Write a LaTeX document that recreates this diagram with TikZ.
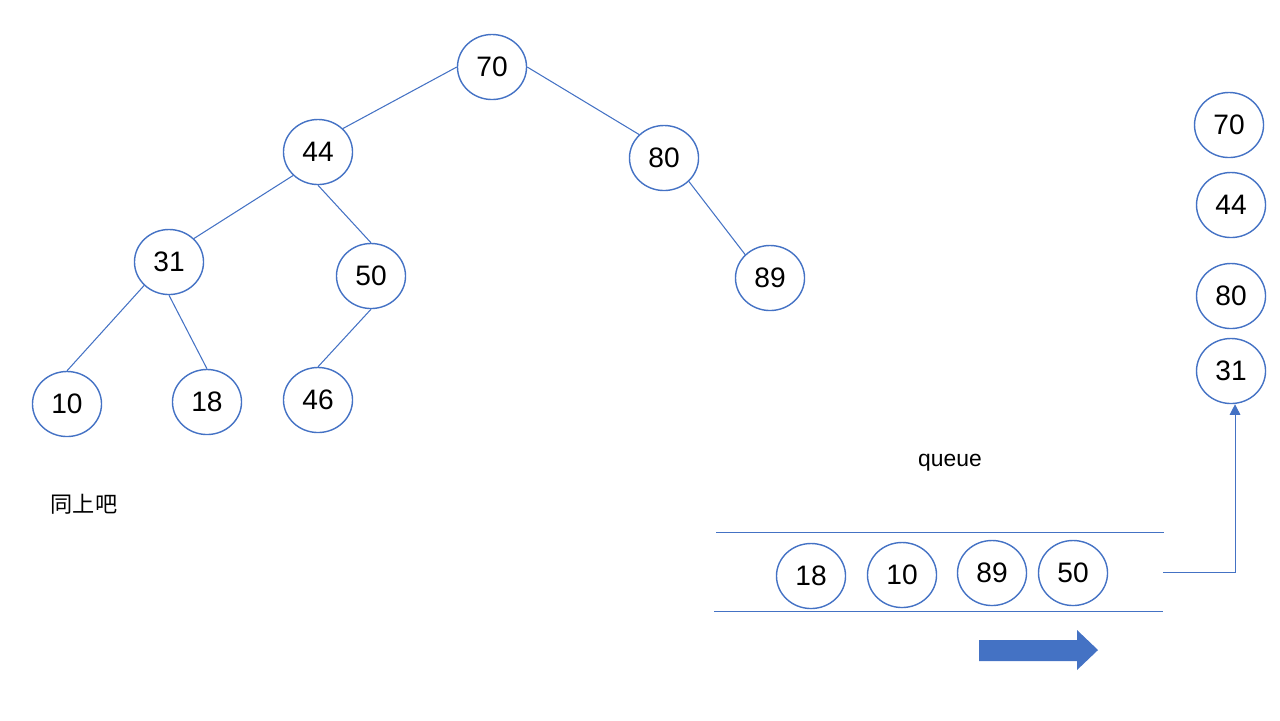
\documentclass[tikz,border=0pt]{standalone}
\usepackage{fontspec}
\setmainfont{Liberation Sans}
\newfontfamily\cjk{Noto Sans CJK SC}
\usetikzlibrary{shapes.geometric, arrows.meta}
\definecolor{edgeblue}{HTML}{4472C4}

\tikzset{
    vtx/.style={draw=edgeblue, shape=ellipse, minimum width=0.69cm, minimum height=0.65cm, inner sep=0pt, font=\fontsize{8}{9}\selectfont},
    link/.style={draw=edgeblue, line width=0.3pt}
}

\begin{document}
\begin{tikzpicture}[x=0.01cm, y=-0.01cm]
    \useasboundingbox (0,0) rectangle (1280,720);

    % tree
    \node(t70)[vtx] at (492, 67) {70};
    \node(t44)[vtx] at (318, 152) {44};
    \node(t80)[vtx] at (664, 158) {80};
    \node(t31)[vtx] at (169, 262) {31};
    \node(t50)[vtx] at (371, 276) {50};
    \node(t89)[vtx] at (770, 278) {89};
    \node(t10)[vtx] at (67, 404) {10};
    \node(t18)[vtx] at (207, 402) {18};
    \node(t46)[vtx] at (318, 400) {46};
    \draw[link] (t70.west) -- (t44.north east);
    \draw[link] (t70.east) -- (t80.north west);
    \draw[link] (t44.south west) -- (t31.north east);
    \draw[link] (t44.south) -- (t50.north);
    \draw[link] (t80.south east) -- (t89.north west);
    \draw[link] (t31.south west) -- (t10.north);
    \draw[link] (t31.south) -- (t18.north);
    \draw[link] (t50.south) -- (t46.north);

    \node(note)[font=\cjk\fontsize{6.3}{7}\selectfont] at (84, 504) {同上吧};

    % output
    \node(o70)[vtx] at (1229, 125) {70};
    \node(o44)[vtx] at (1231, 205) {44};
    \node(o80)[vtx] at (1231, 296) {80};
    \node(o31)[vtx] at (1231, 371) {31};

    % queue
    \node(qlabel)[font=\fontsize{6.5}{7}\selectfont] at (950, 463) {queue};
    \coordinate(qtl) at (716, 532);
    \coordinate(qtr) at (1164, 532);
    \coordinate(qbl) at (714, 611);
    \coordinate(qbr) at (1163, 611);
    \draw[link] (qtl) -- (qtr);
    \draw[link] (qbl) -- (qbr);
    \node(q18)[vtx] at (811, 576) {18};
    \node(q10)[vtx] at (902, 575) {10};
    \node(q89)[vtx] at (992, 573) {89};
    \node(q50)[vtx] at (1073, 573) {50};

    \coordinate(qout) at (1163, 572);
    \draw[link, -{Triangle[length=3pt, width=3pt]}] (qout) -| ([xshift=0.04cm]o31.south);

    % direction
    \fill[edgeblue] (979, 640) -- (1077, 640) -- (1077, 630) -- (1098, 650)
        -- (1077, 670) -- (1077, 661) -- (979, 661) -- cycle;
\end{tikzpicture}
\end{document}
